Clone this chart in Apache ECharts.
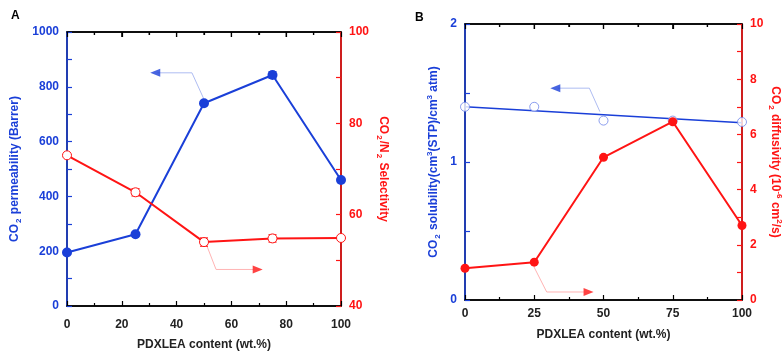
<!DOCTYPE html>
<html><head><meta charset="utf-8">
<script src="https://cdn.jsdelivr.net/npm/echarts@6/dist/echarts.min.js"></script>
<style>html,body{margin:0;padding:0;background:#fff}#c{width:782px;height:351px}</style>
</head><body><div id="c"></div>
<script>
// ---- data ----
const contentA = [0, 25, 50, 75, 100];
const permeability = [195, 262, 740, 843, 460];
const permErr = [0, 0, 8, 12, 0];
const selectivity = [73.0, 64.9, 54.0, 54.8, 54.9];
const selErr = [0, 0.8, 0.9, 0.8, 0];
const contentB = [0, 25, 50, 75, 100];
const solubility = [1.40, 1.40, 1.30, 1.30, 1.29];
const solFitX = [0, 100];
const solFitY = [1.40, 1.285];
const diffusivity = [1.15, 1.37, 5.17, 6.46, 2.7];
// top-frame tick values
const topTicksA = [10, 20, 30, 40, 50, 60, 70, 80, 90];
const topTicksB = [12.5, 25, 37.5, 50, 62.5, 75, 87.5];
// annotation arrows (data coordinates)
const arrowA_blue = [[50.1, 752], [45.6, 851], [33, 851]];
const arrowA_blueHead = [32.2, 851];
const arrowA_red = [[51.1, 53.1], [54.4, 48], [68, 48]];
const arrowA_redHead = [69.6, 48];
const arrowB_blue = [[48.7, 1.365], [44.9, 1.535], [33.5, 1.535]];
const arrowB_blueHead = [32.6, 1.535];
const arrowB_red = [[24.9, 1.2], [29.5, 0.29], [43, 0.29]];
const arrowB_redHead = [44.6, 0.29];

const BLUE = '#1a3fd8', RED = '#ff1414', LBLUE = '#aebcf2', LRED = '#ffb4b4', DARK = '#222';
const FONT = 'Liberation Sans, Arial, sans-serif';

function zip(xs, ys) { return xs.map((x, i) => [x, ys[i]]); }
function errData(xs, ys, es) { return xs.map((x, i) => [x, ys[i] - es[i], ys[i] + es[i]]).filter((d, i) => es[i] > 0); }
function errSeries(data, color, xi, yi) {
  return {
    type: 'custom', xAxisIndex: xi, yAxisIndex: yi, data: data, z: 3, silent: true,
    renderItem: function (params, api) {
      const x = api.value(0);
      const p1 = api.coord([x, api.value(2)]);
      const p2 = api.coord([x, api.value(1)]);
      const w = 4;
      const st = { stroke: color, lineWidth: 1.2 };
      return { type: 'group', children: [
        { type: 'line', shape: { x1: p1[0], y1: p1[1], x2: p2[0], y2: p2[1] }, style: st },
        { type: 'line', shape: { x1: p1[0] - w, y1: p1[1], x2: p1[0] + w, y2: p1[1] }, style: st },
        { type: 'line', shape: { x1: p2[0] - w, y1: p2[1], x2: p2[0] + w, y2: p2[1] }, style: st }
      ] };
    }
  };
}
function topTickSeries(ticks, majorEvery, yTop, xi, yi) {
  return {
    type: 'custom', xAxisIndex: xi, yAxisIndex: yi, data: ticks.map(t => [t, yTop]), z: 6, silent: true,
    renderItem: function (params, api) {
      const p = api.coord([api.value(0), api.value(1)]);
      const len = (params.dataIndex % majorEvery === majorEvery - 1) ? 5 : 3;
      return { type: 'line', shape: { x1: p[0], y1: p[1], x2: p[0], y2: p[1] + len },
        style: { stroke: '#000', lineWidth: 1.2 } };
    }
  };
}
function arrowLine(pts, color, xi, yi) {
  return { type: 'line', xAxisIndex: xi, yAxisIndex: yi, data: pts, symbol: 'none', silent: true,
    lineStyle: { color: color, width: 1 }, z: 1 };
}
function arrowHead(pt, color, rot, xi, yi) {
  return { type: 'scatter', xAxisIndex: xi, yAxisIndex: yi, data: [pt], symbol: 'triangle',
    symbolSize: [8, 10], symbolRotate: rot, itemStyle: { color: color }, silent: true, z: 2 };
}
function xAx(gi, interval, margin, name, nameGap) {
  return {
    type: 'value', gridIndex: gi, min: 0, max: 100, interval: interval, position: 'bottom',
    axisLine: { show: true, onZero: false, lineStyle: { color: '#000', width: 1.5 } },
    axisTick: { show: true, inside: true, length: 5, lineStyle: { color: '#000', width: 1.2 } },
    minorTick: { show: true, splitNumber: 2, length: 3, lineStyle: { color: '#000', width: 1.2 } },
    axisLabel: { color: DARK, fontFamily: FONT, fontWeight: 'bold', fontSize: 12, margin: margin },
    splitLine: { show: false },
    name: name, nameLocation: 'middle', nameGap: nameGap,
    nameTextStyle: { color: DARK, fontFamily: FONT, fontWeight: 'bold', fontSize: 12 }
  };
}
function xTop(gi, interval) {
  return {
    type: 'value', gridIndex: gi, min: 0, max: 100, interval: interval, position: 'top',
    axisLine: { show: true, onZero: false, lineStyle: { color: '#000', width: 1.5 } },
    axisTick: { show: true, inside: true, length: 5, lineStyle: { color: '#000', width: 1.2 } },
    minorTick: { show: true, splitNumber: 2, length: 3, lineStyle: { color: '#000', width: 1.2 } },
    axisLabel: { show: false },
    splitLine: { show: false }
  };
}
function yAx(gi, min, max, interval, pos, color, name, nameGap, rich) {
  return {
    type: 'value', gridIndex: gi, min: min, max: max, interval: interval, position: pos,
    axisLine: { show: true, onZero: false, lineStyle: { color: color, width: 1.5 } },
    axisTick: { show: true, inside: true, length: 5, lineStyle: { color: color, width: 1.2 } },
    minorTick: { show: true, splitNumber: 2, length: 5, lineStyle: { color: color, width: 1.2 } },
    axisLabel: { color: color, fontFamily: FONT, fontWeight: 'bold', fontSize: 12, margin: 8,
      formatter: function (v) { return String(v); } },
    splitLine: { show: false },
    name: name, nameLocation: 'middle', nameGap: nameGap, nameRotate: pos === 'left' ? 90 : -90,
    nameTextStyle: { color: color, fontFamily: FONT, fontWeight: 'bold', fontSize: 12, rich: rich }
  };
}
const richText = function (color) {
  return {
    a: { color: color, fontFamily: FONT, fontWeight: 'bold', fontSize: 12, lineHeight: 16 },
    s: { color: color, fontFamily: FONT, fontWeight: 'bold', fontSize: 8, verticalAlign: 'bottom', padding: [9, 1, 0, 1], lineHeight: 16 },
    u: { color: color, fontFamily: FONT, fontWeight: 'bold', fontSize: 8, verticalAlign: 'top', padding: [0, 0, 8, 0], lineHeight: 16 }
  };
};

const chart = echarts.init(document.getElementById('c'), null, { renderer: 'canvas' });
chart.setOption({
  animation: false,
  backgroundColor: '#fff',
  graphic: [
    { type: 'text', left: 11, top: 10, style: { text: 'A', font: 'bold 12px ' + FONT, fill: '#000' } },
    { type: 'text', left: 415, top: 12, style: { text: 'B', font: 'bold 12px ' + FONT, fill: '#000' } }
  ],
  grid: [
    { left: 67, top: 32, width: 274, height: 274, outerBoundsMode: 'none', show: true, borderColor: '#000', borderWidth: 1.5, backgroundColor: 'transparent' },
    { left: 465, top: 24, width: 277, height: 276, outerBoundsMode: 'none', show: true, borderColor: '#000', borderWidth: 1.5, backgroundColor: 'transparent' }
  ],
  xAxis: [
    xAx(0, 20, 13, 'PDXLEA content (wt.%)', 33),
    xTop(0, 20),
    xAx(1, 25, 8, 'PDXLEA content (wt.%)', 29),
    xTop(1, 25)
  ],
  yAxis: [
    yAx(0, 0, 1000, 200, 'left', BLUE, '{a|CO}{s|2}{a| permeability (Barrer)}', 44, richText(BLUE)),
    yAx(0, 40, 100, 20, 'right', RED, '{a|CO}{s|2}{a|/N}{s|2}{a| Selectivity}', 34, richText(RED)),
    yAx(1, 0, 2, 1, 'left', BLUE, '{a|CO}{s|2}{a| solubility(cm}{u|3}{a|(STP)/cm}{u|3}{a| atm)}', 23, richText(BLUE)),
    yAx(1, 0, 10, 2, 'right', RED, '{a|CO}{s|2}{a| diffusivity (10}{u|-6}{a| cm}{u|2}{a|/s)}', 25, richText(RED))
  ],
  series: [
    { type: 'line', xAxisIndex: 1, yAxisIndex: 0, data: [], silent: true },
    { type: 'line', xAxisIndex: 3, yAxisIndex: 2, data: [], silent: true },
    topTickSeries(topTicksA, 2, 1000, 0, 0),
    topTickSeries(topTicksB, 2, 2, 2, 2),
    arrowLine(arrowA_blue, LBLUE, 0, 0),
    arrowHead(arrowA_blueHead, BLUE, 90, 0, 0),
    arrowLine(arrowA_red, LRED, 0, 1),
    arrowHead(arrowA_redHead, RED, -90, 0, 1),
    { type: 'line', xAxisIndex: 0, yAxisIndex: 0, data: zip(contentA, permeability), symbol: 'circle', symbolSize: 10,
      lineStyle: { color: BLUE, width: 2 }, itemStyle: { color: BLUE }, z: 4 },
    errSeries(errData(contentA, permeability, permErr), BLUE, 0, 0),
    { type: 'line', xAxisIndex: 0, yAxisIndex: 1, data: zip(contentA, selectivity), symbol: 'circle', symbolSize: 9,
      lineStyle: { color: RED, width: 2 }, itemStyle: { color: '#fff', borderColor: RED, borderWidth: 1 }, z: 4 },
    errSeries(errData(contentA, selectivity, selErr), RED, 0, 1),

    arrowLine(arrowB_blue, LBLUE, 2, 2),
    arrowHead(arrowB_blueHead, BLUE, 90, 2, 2),
    arrowLine(arrowB_red, LRED, 2, 3),
    arrowHead(arrowB_redHead, RED, -90, 2, 3),
    { type: 'line', xAxisIndex: 2, yAxisIndex: 2, data: zip(solFitX, solFitY), symbol: 'none',
      lineStyle: { color: BLUE, width: 1.5 }, z: 3 },
    { type: 'scatter', xAxisIndex: 2, yAxisIndex: 2, data: zip(contentB, solubility), symbol: 'circle', symbolSize: 9,
      itemStyle: { color: '#fff', borderColor: '#6f86ea', borderWidth: 1 }, z: 4 },
    { type: 'line', xAxisIndex: 2, yAxisIndex: 3, data: zip(contentB, diffusivity), symbol: 'circle', symbolSize: 9,
      lineStyle: { color: RED, width: 2 }, itemStyle: { color: RED }, z: 5 }
  ]
});
</script></body></html>
